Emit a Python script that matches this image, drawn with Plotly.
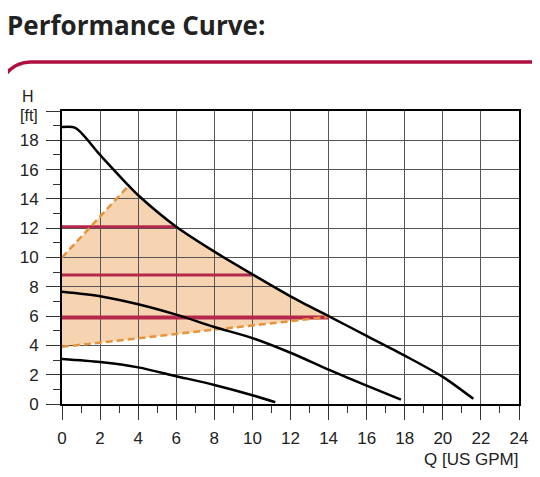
"""Pump performance curve (H vs Q) with the shaded operating area."""

import plotly.graph_objects as go

# --- data ---------------------------------------------------------------
# three speed curves, Q in US GPM, H in ft
high_q = [0, 0.7, 2, 3.5, 4, 6, 8, 10, 12, 14, 16, 18, 20, 21.6]
high_h = [18.9, 18.85, 17.0, 14.9, 14.25, 12.1, 10.4, 8.85, 7.35, 6.0, 4.65, 3.3, 1.85, 0.35]

mid_q = [0, 2, 4, 6, 8, 10, 12, 14, 16, 17.8]
mid_h = [7.66, 7.36, 6.81, 6.1, 5.26, 4.5, 3.5, 2.35, 1.25, 0.3]

low_q = [0, 2, 4, 6, 8, 10, 11.2]
low_h = [3.07, 2.86, 2.5, 1.9, 1.3, 0.6, 0.12]

# dashed limits of the operating area
upper_dash_q = [0, 3.5]
upper_dash_h = [10, 14.9]
lower_dash_q = [0, 14]
lower_dash_h = [3.9, 5.95]

# constant-pressure settings (red lines)
setting_h = [12.1, 8.8, 5.9]
setting_q_end = [6.0, 10.0, 14.0]

x_ticks = list(range(0, 25, 2))
y_ticks = list(range(0, 21, 2))
y_ticktext = [str(v) if v < 20 else '' for v in y_ticks]

# --- layout geometry ------------------------------------------------------
# the page body adds an 8px margin, so the figure is shrunk by that amount
# and all window positions below are shifted back by OFF
OFF = 8
W, H = 540 - OFF, 477 - OFF
ML, MR, MT, MB = 62 - OFF, 17, 111 - OFF, 73
PW, PH = W - ML - MR, H - MT - MB


def px(x):
	return (x - OFF - ML) / PW


def py(y):
	return (H - MB - (y - OFF)) / PH


RED = '#b5274b'
ORANGE = '#e8923a'
FILL = '#f6d4b2'
FONT = 'Liberation Sans, Arial, sans-serif'

fig = go.Figure()

# operating area: upper dashed edge, then the top curve down to 14 GPM,
# then lower dashed edge back to the axis
area_q = upper_dash_q + [q for q in high_q if upper_dash_q[-1] < q <= lower_dash_q[-1]]
area_h = upper_dash_h + [h for q, h in zip(high_q, high_h) if upper_dash_q[-1] < q <= lower_dash_q[-1]]
area_q += lower_dash_q[::-1]
area_h += lower_dash_h[::-1]
area_path = 'M ' + ' L '.join(f'{q},{h}' for q, h in zip(area_q, area_h)) + ' Z'

for q_end, h, w in zip(setting_q_end, setting_h, [3, 3, 4]):
	fig.add_trace(go.Scatter(
		x=[0, q_end], y=[h, h], mode='lines',
		line=dict(color=RED, width=w), hoverinfo='skip'))

for xs, ys in [(upper_dash_q, upper_dash_h), (lower_dash_q, lower_dash_h)]:
	fig.add_trace(go.Scatter(
		x=xs, y=ys, mode='lines',
		line=dict(color=ORANGE, width=2.5, dash='7px,4px'), hoverinfo='skip'))

for xs, ys in [(high_q, high_h), (mid_q, mid_h), (low_q, low_h)]:
	fig.add_trace(go.Scatter(
		x=xs, y=ys, mode='lines',
		line=dict(color='black', width=2.5, shape='spline', smoothing=0.8)))

axis_common = dict(
	showline=True, mirror=True, linecolor='black', linewidth=2,
	showgrid=True, gridcolor='#555555', gridwidth=1,
	ticks='outside', ticklen=14, tickcolor='#333333', tickwidth=1,
	zeroline=False, tickfont=dict(family=FONT, size=17, color='#222222'),
	minor=dict(dtick=1, ticks='outside', ticklen=7, tickcolor='#333333',
		showgrid=False),
)

fig.update_layout(
	width=W, height=H,
	margin=dict(l=ML, r=MR, t=MT, b=MB),
	paper_bgcolor='white', plot_bgcolor='white',
	showlegend=False,
	xaxis=dict(range=[0, 24], tickmode='array', tickvals=x_ticks,
		ticklabelstandoff=4, **axis_common),
	yaxis=dict(range=[0, 20], tickmode='array', tickvals=y_ticks,
		ticktext=y_ticktext, ticklabelstandoff=4, **axis_common),
	shapes=[
		dict(type='path', xref='x', yref='y', path=area_path,
			fillcolor=FILL, line=dict(width=0), layer='below'),
		dict(type='path', xref='paper', yref='paper',
			path=f'M {px(545)},{py(62)} L {px(30)},{py(62)} '
				f'Q {px(6)},{py(63)} {px(-3)},{py(90)}',
			line=dict(color='#b0103e', width=3.5)),
	],
	annotations=[
		dict(text='Performance Curve:', xref='paper', yref='paper',
			x=px(5), y=py(25), xanchor='left', yanchor='middle',
			showarrow=False,
			font=dict(family='Open Sans, sans-serif', size=26,
				color='#222222', weight='bold')),
		dict(text='H', xref='paper', yref='paper', x=px(28), y=py(97),
			xanchor='center', yanchor='middle', showarrow=False,
			font=dict(family=FONT, size=16, color='#222222')),
		dict(text='[ft]', xref='paper', yref='paper', x=px(29), y=py(115),
			xanchor='center', yanchor='middle', showarrow=False,
			font=dict(family=FONT, size=16, color='#222222')),
		dict(text='Q [US GPM]', xref='paper', yref='paper', x=px(524),
			y=py(459), xanchor='right', yanchor='middle', showarrow=False,
			font=dict(family=FONT, size=17, color='#222222')),
	],
)

fig.write_html('out.html')
